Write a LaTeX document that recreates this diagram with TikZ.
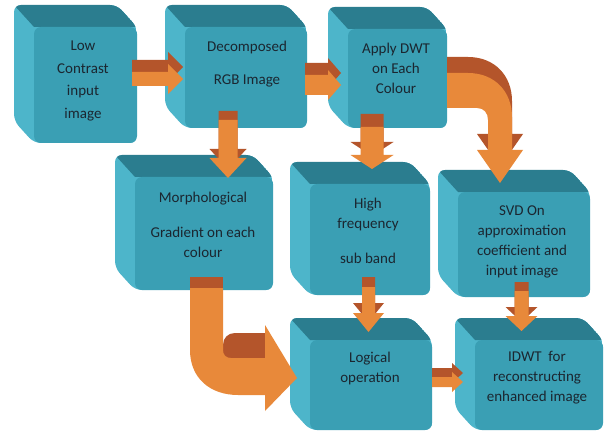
\documentclass[tikz,border=0pt]{standalone}
\usepackage{fontspec}
\setmainfont{Carlito}
\definecolor{cubefront}{HTML}{3A9FB4}
\definecolor{cubetop}{HTML}{2B7D8F}
\definecolor{cubeleft}{HTML}{4DB5CA}
\definecolor{arrorange}{HTML}{E8893A}
\definecolor{arrdark}{HTML}{B4552B}
\definecolor{txt}{HTML}{1B2630}
\tikzset{
  lbl/.style={align=center, text=txt, font=\fontsize{15}{20}\selectfont, inner sep=0pt},
}
% cube: name, x1, y1, x2, y2 (outer extents, y downward)
\newcommand\cube[5]{%
  \begin{scope}
    \clip[rounded corners=7pt] (#2,#3) -- (#4-20,#3) -- (#4,#3+22) -- (#4,#5) -- (#2+20,#5) -- (#2,#5-22) -- cycle;
    \fill[cubeleft] (#2,#3) rectangle (#4,#5);
    \fill[cubetop] (#2,#3) -- (#4-20,#3) -- (#4,#3+22) -- (#2+20,#3+22) -- cycle;
  \end{scope}
  \fill[cubefront, rounded corners=7pt] (#2+20,#3+22) rectangle (#4,#5);
  \coordinate (#1) at ({(#2+20+#4)/2},{(#3+22+#5)/2});
}
% down arrow: cx, ytop, yhead, ytip, shaft half, head half, depth
\newcommand\downarr[7]{%
  \fill[arrdark] (#1-#5,#2-#7) -- (#1+#5,#2-#7) -- (#1+#5,#3-#7) -- (#1+#6,#3-#7) -- (#1,#4-#7) -- (#1-#6,#3-#7) -- (#1-#5,#3-#7) -- cycle;
  \fill[arrorange] (#1-#5,#2) -- (#1+#5,#2) -- (#1+#5,#3) -- (#1+#6,#3) -- (#1,#4) -- (#1-#6,#3) -- (#1-#5,#3) -- cycle;
}
% right arrow: xstart, xhead, xtip, cy, shaft half, head half, depth
\newcommand\rightarr[7]{%
  \fill[arrdark] (#1,#4-#5-#7) -- (#2,#4-#5-#7) -- (#2,#4-#6-#7) -- (#3,#4-#7) -- (#2,#4+#6-#7) -- (#2,#4+#5-#7) -- (#1,#4+#5-#7) -- cycle;
  \fill[arrorange] (#1,#4-#5) -- (#2,#4-#5) -- (#2,#4-#6) -- (#3,#4) -- (#2,#4+#6) -- (#2,#4+#5) -- (#1,#4+#5) -- cycle;
}
\begin{document}
\begin{tikzpicture}[x=1pt,y=-1pt]
\useasboundingbox[fill=white] (0,0) rectangle (608,433);
% boxes
\cube{b1}{14}{5}{137}{143}
\cube{b2}{165}{5}{307}{128}
\cube{b3}{328}{7}{447}{128}
\cube{b4}{115}{155}{273}{290}
\cube{b5}{290}{162}{430}{295}
\cube{b6}{438}{170}{590}{297}
\cube{b7}{290}{318}{432}{430}
\cube{b8}{455}{318}{603}{430}
% straight arrows
\rightarr{132}{168}{183}{79}{7}{15}{12}
\rightarr{305}{328}{341}{85}{10}{15}{12}
\rightarr{432}{452}{463}{382}{5}{10}{9}
\downarr{228}{120}{158}{178}{9.5}{18.5}{9}
\downarr{372}{127}{155}{169}{11.5}{21.5}{13}
\downarr{368.5}{287}{313}{332}{6.5}{15.5}{10}
\downarr{521.5}{291}{316}{331}{7}{16}{9}
% bent arrow from b3 to b6
\fill[arrdark, yshift=16pt] (447,73) -- (468,73) .. controls (495,73) and (512,92) .. (512,117) -- (512,150) -- (523,150) -- (500,183) -- (477,150) -- (488,150) -- (488,120) .. controls (488,113) and (484,108) .. (477,108) -- (447,108) -- cycle;
\fill[arrorange] (447,73) -- (468,73) .. controls (495,73) and (512,92) .. (512,117) -- (512,150) -- (523,150) -- (500,183) -- (477,150) -- (488,150) -- (488,120) .. controls (488,113) and (484,108) .. (477,108) -- (447,108) -- cycle;
% bent arrow from b4 to b7
\fill[arrdark] (190,277) rectangle (223,290);
\fill[arrdark] (223,360) -- (223,345) .. controls (223,338) and (228,333) .. (235,333) -- (265,333) -- (265,360) -- cycle;
\fill[arrorange] (190,288) -- (223,288) -- (223,350) .. controls (223,355) and (226,358) .. (231,358) -- (265,358) -- (265,325) -- (297,378) -- (265,411) -- (265,395) -- (238,395) .. controls (210,395) and (190,378) .. (190,350) -- cycle;
% labels
\node[lbl] (t1) at (83,81) {Low\\[2.7pt]Contrast\\[2.7pt]input\\[2.7pt]image};
\node[lbl] (t2) at (247,64) {Decomposed\\[13pt]RGB Image};
\node[lbl] (t3) at (396,68) {Apply DWT\\on Each\\Colour};
\node[lbl] (t4) at (203,225) {Morphological\\[15pt]Gradient on each\\colour};
\node[lbl] (t5) at (368,231) {High\\frequency\\[15pt]sub band};
\node[lbl] (t6) at (522,242) {SVD On\\approximation\\coefficient and\\input image};
\node[lbl] (t7) at (370,368) {Logical\\operation};
\node[lbl] (t8) at (537,378) {IDWT\ \ for\\reconstructing\\enhanced image};
\end{tikzpicture}
\end{document}
